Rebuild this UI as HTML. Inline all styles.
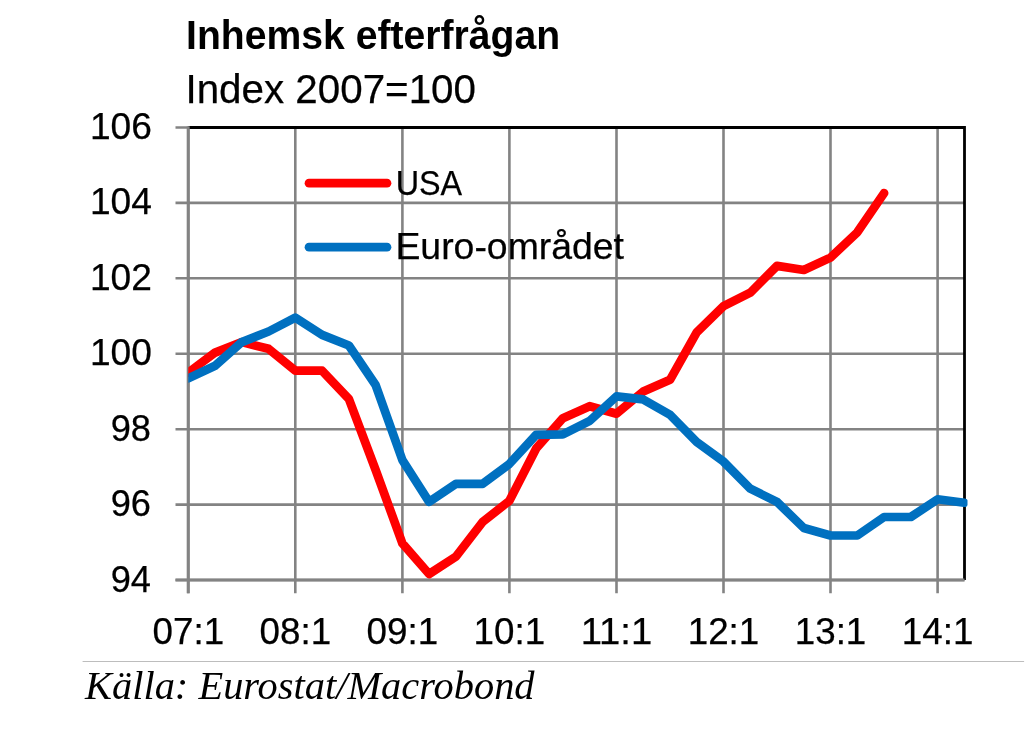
<!DOCTYPE html>
<html><head><meta charset="utf-8"><style>
html,body{margin:0;padding:0;background:#fff;width:1030px;height:733px;overflow:hidden}
svg{display:block;will-change:transform}
text{font-family:"Liberation Sans",sans-serif;fill:#000}
.r{stroke:#000;stroke-width:0.25px}
.src{font-family:"Liberation Serif",serif;font-style:italic}
</style></head><body>
<svg width="1030" height="733" viewBox="0 0 1030 733">
<line x1="175.5" y1="127.5" x2="964.5" y2="127.5" stroke="#838383" stroke-width="2.6"/>
<line x1="175.5" y1="202.9" x2="964.5" y2="202.9" stroke="#838383" stroke-width="2.6"/>
<line x1="175.5" y1="278.3" x2="964.5" y2="278.3" stroke="#838383" stroke-width="2.6"/>
<line x1="175.5" y1="353.8" x2="964.5" y2="353.8" stroke="#838383" stroke-width="2.6"/>
<line x1="175.5" y1="429.2" x2="964.5" y2="429.2" stroke="#838383" stroke-width="2.6"/>
<line x1="175.5" y1="504.6" x2="964.5" y2="504.6" stroke="#838383" stroke-width="2.6"/>
<line x1="175.5" y1="580.0" x2="964.5" y2="580.0" stroke="#838383" stroke-width="2.6"/>
<line x1="188.3" y1="127.5" x2="188.3" y2="593.2" stroke="#838383" stroke-width="2.6"/>
<line x1="295.3" y1="127.5" x2="295.3" y2="593.2" stroke="#838383" stroke-width="2.6"/>
<line x1="402.4" y1="127.5" x2="402.4" y2="593.2" stroke="#838383" stroke-width="2.6"/>
<line x1="509.4" y1="127.5" x2="509.4" y2="593.2" stroke="#838383" stroke-width="2.6"/>
<line x1="616.5" y1="127.5" x2="616.5" y2="593.2" stroke="#838383" stroke-width="2.6"/>
<line x1="723.5" y1="127.5" x2="723.5" y2="593.2" stroke="#838383" stroke-width="2.6"/>
<line x1="830.5" y1="127.5" x2="830.5" y2="593.2" stroke="#838383" stroke-width="2.6"/>
<line x1="937.6" y1="127.5" x2="937.6" y2="593.2" stroke="#838383" stroke-width="2.6"/>
<polyline points="188.3,127.5 964.5,127.5 964.5,580" fill="none" stroke="#000" stroke-width="2.8"/>
<line x1="188.2" y1="126.2" x2="188.2" y2="593.2" stroke="#838383" stroke-width="3.0"/>
<line x1="175.5" y1="580.1" x2="964.5" y2="580.1" stroke="#838383" stroke-width="3.0"/>
<line x1="309" y1="183.2" x2="387" y2="183.2" stroke="#FF0000" stroke-width="8.7" stroke-linecap="round"/>
<line x1="309" y1="247.2" x2="387" y2="247.2" stroke="#0070C0" stroke-width="8.7" stroke-linecap="round"/>
<defs><clipPath id="pc"><rect x="188.3" y="0" width="779.2" height="733"/></clipPath></defs><g clip-path="url(#pc)">
<polyline points="188.3,372.6 215.1,352.6 241.8,342.1 268.6,348.8 295.3,370.7 322.1,370.7 348.9,399.0 375.6,469.9 402.4,543.4 429.1,574.0 455.9,556.6 482.7,521.9 509.4,500.8 536.2,448.4 562.9,418.2 589.7,406.2 616.5,413.7 643.2,391.5 670.0,379.8 696.7,332.3 723.5,306.2 750.3,292.7 777.0,265.9 803.8,270.0 830.5,257.6 857.3,232.3 884.1,193.1" fill="none" stroke="#FF0000" stroke-width="8.7" stroke-linejoin="round" stroke-linecap="round"/>
<polyline points="188.3,378.3 215.1,365.8 241.8,342.1 268.6,331.5 295.3,317.6 322.1,334.9 348.9,345.5 375.6,385.0 402.4,460.1 429.1,501.9 455.9,483.8 482.7,483.8 509.4,463.9 536.2,434.8 562.9,434.4 589.7,420.9 616.5,396.4 643.2,399.4 670.0,414.8 696.7,442.0 723.5,461.6 750.3,488.7 777.0,501.9 803.8,528.0 830.5,535.5 857.3,535.5 884.1,517.0 910.8,517.0 937.6,499.3 964.3,502.7" fill="none" stroke="#0070C0" stroke-width="8.7" stroke-linejoin="round" stroke-linecap="round"/>
</g>
<text x="186.04" y="48.8" font-size="40.44" text-anchor="start" textLength="374.1" lengthAdjust="spacingAndGlyphs" font-weight="bold">Inhemsk efterfrågan</text>
<text class="r" x="185.44" y="102.8" font-size="41.3" text-anchor="start" textLength="290.5" lengthAdjust="spacingAndGlyphs" >Index 2007=100</text>
<text class="r" x="151.9" y="138.7" font-size="36.3" text-anchor="end" textLength="62.0" lengthAdjust="spacingAndGlyphs" >106</text>
<text class="r" x="151.9" y="214.12" font-size="36.3" text-anchor="end" textLength="62.0" lengthAdjust="spacingAndGlyphs" >104</text>
<text class="r" x="151.9" y="289.53" font-size="36.3" text-anchor="end" textLength="62.0" lengthAdjust="spacingAndGlyphs" >102</text>
<text class="r" x="151.9" y="364.95" font-size="36.3" text-anchor="end" textLength="62.0" lengthAdjust="spacingAndGlyphs" >100</text>
<text class="r" x="151.0" y="440.67" font-size="36.4" text-anchor="end" textLength="40.3" lengthAdjust="spacingAndGlyphs" >98</text>
<text class="r" x="151.0" y="516.08" font-size="36.4" text-anchor="end" textLength="40.3" lengthAdjust="spacingAndGlyphs" >96</text>
<text class="r" x="151.0" y="591.5" font-size="36.4" text-anchor="end" textLength="40.3" lengthAdjust="spacingAndGlyphs" >94</text>
<text class="r" x="188.3" y="644.0" font-size="37.0" text-anchor="middle" textLength="71.6" lengthAdjust="spacingAndGlyphs" >07:1</text>
<text class="r" x="295.34" y="644.0" font-size="37.0" text-anchor="middle" textLength="71.6" lengthAdjust="spacingAndGlyphs" >08:1</text>
<text class="r" x="402.38" y="644.0" font-size="37.0" text-anchor="middle" textLength="71.6" lengthAdjust="spacingAndGlyphs" >09:1</text>
<text class="r" x="509.42" y="644.0" font-size="37.0" text-anchor="middle" textLength="71.6" lengthAdjust="spacingAndGlyphs" >10:1</text>
<text class="r" x="616.46" y="644.0" font-size="37.0" text-anchor="middle" textLength="71.6" lengthAdjust="spacingAndGlyphs" >11:1</text>
<text class="r" x="723.5" y="644.0" font-size="37.0" text-anchor="middle" textLength="71.6" lengthAdjust="spacingAndGlyphs" >12:1</text>
<text class="r" x="830.54" y="644.0" font-size="37.0" text-anchor="middle" textLength="71.6" lengthAdjust="spacingAndGlyphs" >13:1</text>
<text class="r" x="937.58" y="644.0" font-size="37.0" text-anchor="middle" textLength="71.6" lengthAdjust="spacingAndGlyphs" >14:1</text>
<text class="r" x="395.63" y="194.75" font-size="35.97" text-anchor="start" textLength="66.44" lengthAdjust="spacingAndGlyphs" >USA</text>
<text class="r" x="395.42" y="258.5" font-size="36.36" text-anchor="start" textLength="228.6" lengthAdjust="spacingAndGlyphs" >Euro-området</text>
<line x1="82.6" y1="661.5" x2="1024.1" y2="661.5" stroke="#bdbdbd" stroke-width="1.2"/>
<text class="src" x="85.0" y="699.2" font-size="40.23" textLength="449.6" lengthAdjust="spacingAndGlyphs">Källa: Eurostat/Macrobond</text>
</svg>
</body></html>
